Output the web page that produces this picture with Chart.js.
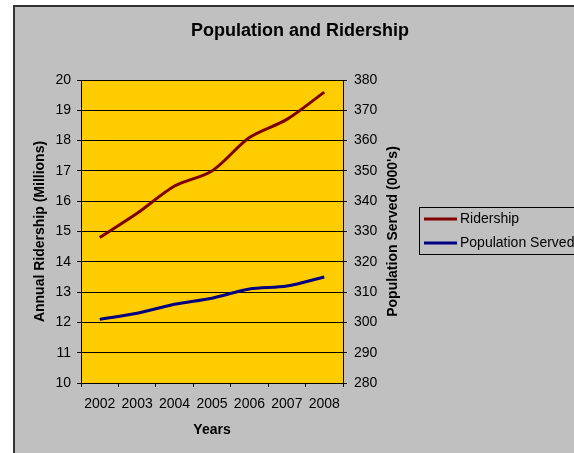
<!DOCTYPE html>
<html>
<head>
<meta charset="utf-8">
<script src="https://cdn.jsdelivr.net/npm/chart.js@4.4.0/dist/chart.umd.min.js"></script>
<style>
  html, body { margin: 0; padding: 0; background: #ffffff; overflow: hidden; }
  #wrap { width: 574px; height: 453px; position: relative; }
  canvas { display: block; }
</style>
</head>
<body>
<div id="wrap"><canvas id="c" width="574" height="453"></canvas></div>
<script>
// ---- Data ----
const years = ['2002', '2003', '2004', '2005', '2006', '2007', '2008'];
const ridership = [14.8, 15.6, 16.5, 17.0, 18.1, 18.7, 19.6];       // millions
const populationServed = [301, 303, 306, 308, 311, 312, 315];       // 000's
const seriesNames = ['Ridership', 'Population Served'];
const chartTitle = 'Population and Ridership';
const xTitle = 'Years';
const yLeftTitle = 'Annual Ridership (Millions)';
const yRightTitle = "Population Served (000's)";

const FONT = '"Liberation Sans", Arial, sans-serif';
const RED = '#800000';
const BLUE = '#000080';

const framePlugin = {
  id: 'frame',
  beforeDraw(chart) {
    const ctx = chart.ctx;
    const a = chart.chartArea;
    ctx.save();
    ctx.fillStyle = '#ffffff';
    ctx.fillRect(0, 0, chart.width, chart.height);
    ctx.fillStyle = '#333333';
    ctx.fillRect(13, 5, chart.width, 2);
    ctx.fillRect(13, 5, 2, chart.height);
    ctx.fillStyle = '#c0c0c0';
    ctx.fillRect(15, 7, chart.width, chart.height);
    ctx.fillStyle = '#ffcc00';
    ctx.fillRect(a.left, a.top, a.right - a.left, a.bottom - a.top);
    ctx.restore();
  },
  afterDraw(chart) {
    const ctx = chart.ctx;
    const a = chart.chartArea;
    ctx.save();
    // right axis title, reading bottom-to-top
    ctx.font = 'bold 14px ' + FONT;
    ctx.fillStyle = '#000';
    ctx.textAlign = 'center';
    ctx.textBaseline = 'middle';
    ctx.translate(393, (a.top + a.bottom) / 2);
    ctx.rotate(-Math.PI / 2);
    ctx.fillText(yRightTitle, 0, 0);
    ctx.restore();

    // legend
    ctx.save();
    ctx.fillStyle = '#c0c0c0';
    ctx.fillRect(419.5, 207.5, 200, 47);
    ctx.strokeStyle = '#000';
    ctx.lineWidth = 1;
    ctx.strokeRect(419.5, 207.5, 200, 47);
    const rows = [219, 243];
    chart.data.datasets.forEach((ds, i) => {
      ctx.strokeStyle = ds.borderColor;
      ctx.lineWidth = 3;
      ctx.beginPath();
      ctx.moveTo(424, rows[i]);
      ctx.lineTo(457, rows[i]);
      ctx.stroke();
      ctx.fillStyle = '#000';
      ctx.font = '14px ' + FONT;
      ctx.textAlign = 'left';
      ctx.textBaseline = 'middle';
      ctx.fillText(ds.label, 460, rows[i] + 0.5);
    });
    ctx.restore();
  }
};

new Chart(document.getElementById('c'), {
  type: 'line',
  data: {
    labels: years,
    datasets: [
      { label: seriesNames[0], data: ridership, yAxisID: 'y', borderColor: RED, backgroundColor: RED,
        borderWidth: 3, pointRadius: 0, tension: 0.3, fill: false },
      { label: seriesNames[1], data: populationServed, yAxisID: 'y1', borderColor: BLUE, backgroundColor: BLUE,
        borderWidth: 3, pointRadius: 0, tension: 0.3, fill: false }
    ]
  },
  options: {
    responsive: false,
    animation: false,
    layout: { padding: { left: 26, top: 0, right: 0, bottom: 0 } },
    plugins: {
      legend: { display: false },
      tooltip: { enabled: false },
      title: {
        display: true, text: chartTitle, color: '#000',
        font: { family: FONT, size: 18, weight: 'bold' },
        padding: { top: 20.5, bottom: 37.9 }
      }
    },
    scales: {
      x: {
        offset: true,
        grid: { offset: true, drawOnChartArea: false, drawTicks: true, tickLength: 4, color: '#000', lineWidth: 1 },
        border: { display: true, color: '#000', width: 1 },
        ticks: { color: '#000', font: { family: FONT, size: 14 }, padding: 9, maxRotation: 0, autoSkip: false },
        title: { display: true, text: xTitle, color: '#000', font: { family: FONT, size: 14, weight: 'bold' }, padding: { top: 0, bottom: 14 } },
        afterFit(s) { s.height = 70; }
      },
      y: {
        position: 'left', min: 10, max: 20,
        grid: { drawOnChartArea: true, drawTicks: true, tickLength: 4, color: '#000', lineWidth: 1 },
        border: { display: true, color: '#000', width: 1 },
        ticks: { stepSize: 1, color: '#000', font: { family: FONT, size: 14 }, padding: 6 },
        title: { display: true, text: yLeftTitle, color: '#000', font: { family: FONT, size: 14, weight: 'bold' }, padding: { top: 5.6, bottom: 0 } },
        afterFit(s) { s.width = 55; }
      },
      y1: {
        position: 'right', min: 280, max: 380,
        grid: { drawOnChartArea: false, drawTicks: true, tickLength: 4, color: '#000', lineWidth: 1 },
        border: { display: true, color: '#000', width: 1 },
        ticks: { stepSize: 10, color: '#000', font: { family: FONT, size: 14 }, padding: 7 },
        afterFit(s) { s.width = 231; }
      }
    }
  },
  plugins: [framePlugin]
});
</script>
</body>
</html>
